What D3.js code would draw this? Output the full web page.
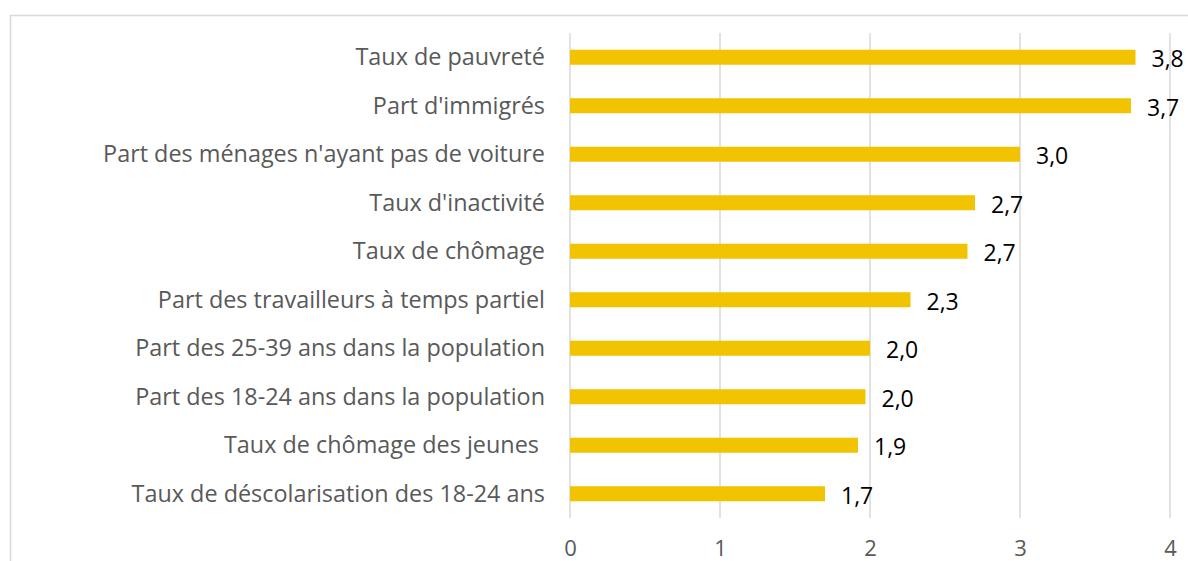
<!DOCTYPE html>
<meta charset="utf-8">
<title>Indicateurs</title>
<style>
    body { margin: 0; background: #fff; }
    .cat { font: 23.4px "Open Sans", sans-serif; fill: #595959; white-space: pre; }
    .val { font: 23px "Open Sans", sans-serif; fill: #000; }
    .tick text { font: 22px "Open Sans", sans-serif; fill: #595959; }
</style>
<body>
<div id="chart"></div>
<script src="https://cdn.jsdelivr.net/npm/d3@7"></script>
<script>
// categories, top to bottom
var categories = [
    "Taux de pauvreté",
    "Part d'immigrés",
    "Part des ménages n'ayant pas de voiture",
    "Taux d'inactivité",
    "Taux de chômage",
    "Part des travailleurs à temps partiel",
    "Part des 25-39 ans dans la population",
    "Part des 18-24 ans dans la population",
    "Taux de chômage des jeunes ",
    "Taux de déscolarisation des 18-24 ans"
];
var values = [3.77, 3.74, 3.0, 2.7, 2.65, 2.27, 2.0, 1.97, 1.92, 1.7];
var labels = ["3,8", "3,7", "3,0", "2,7", "2,7", "2,3", "2,0", "2,0", "1,9", "1,7"];
var ticks = [0, 1, 2, 3, 4];

var W = 1188, H = 561;
var margin = {top: 33, right: 18, bottom: 43, left: 570};
var width = W - margin.left - margin.right,
    height = H - margin.top - margin.bottom;

var svg = d3.select("#chart").append("svg")
    .attr("width", W).attr("height", H);

// outer frame of the chart area
svg.append("rect")
    .attr("x", 10.5).attr("y", 15.5)
    .attr("width", W + 10).attr("height", H + 10)
    .attr("fill", "none").attr("stroke", "#d9d9d9").attr("stroke-width", 1.5);

var g = svg.append("g")
    .attr("transform", "translate(" + margin.left + "," + margin.top + ")");

var x = d3.scaleLinear().domain([0, 4]).range([0, 600]);
var y = d3.scaleBand().domain(categories).range([0, height]).paddingInner(0.69).paddingOuter(0.345);

// vertical gridlines
g.selectAll(".grid").data(ticks).enter().append("line")
    .attr("x1", function(d) { return x(d); })
    .attr("x2", function(d) { return x(d); })
    .attr("y1", 0).attr("y2", height)
    .attr("stroke", "#d9d9d9").attr("stroke-width", 1.5);

// x axis labels
var xa = g.append("g")
    .attr("transform", "translate(0," + height + ")")
    .call(d3.axisBottom(x).tickValues(ticks).tickFormat(d3.format("d")).tickSize(0).tickPadding(22));
xa.select(".domain").remove();

// bars
g.selectAll(".bar").data(values).enter().append("rect")
    .attr("class", "bar")
    .attr("x", x(0))
    .attr("y", function(d, i) { return y(categories[i]); })
    .attr("width", function(d) { return x(d) - x(0); })
    .attr("height", y.bandwidth())
    .attr("fill", "#f2c300");

// value labels
g.selectAll(".val").data(values).enter().append("text")
    .attr("class", "val")
    .attr("x", function(d) { return x(d) + 16; })
    .attr("y", function(d, i) { return y(categories[i]) + y.bandwidth() / 2 + 2; })
    .attr("dy", "0.35em")
    .text(function(d, i) { return labels[i]; });

// category labels
g.selectAll(".cat").data(categories).enter().append("text")
    .attr("class", "cat")
    .attr("x", -25)
    .attr("y", function(d) { return y(d) + y.bandwidth() / 2; })
    .attr("dy", "0.35em")
    .attr("text-anchor", "end")
    .text(function(d) { return d; });
</script>
</body>
